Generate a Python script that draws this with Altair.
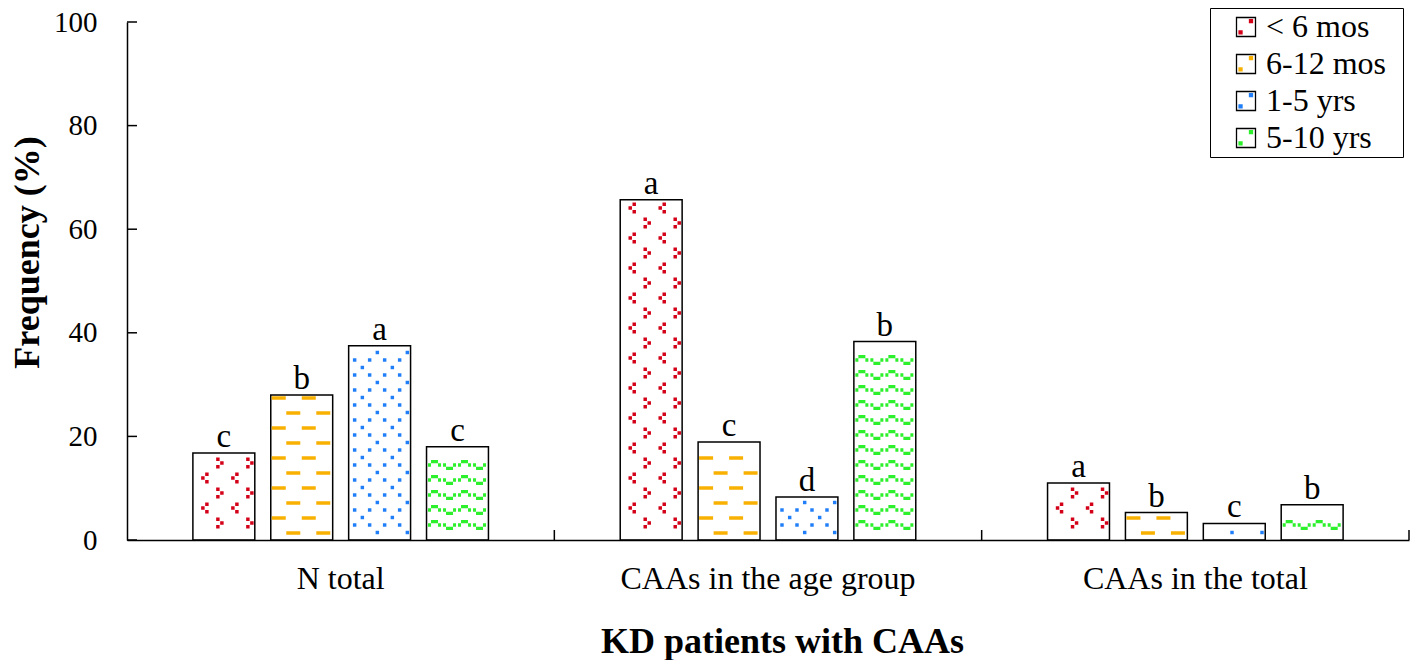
import altair as alt
import pandas as pd

# ---------------- data ----------------
categories = ["N total", "CAAs in the age group", "CAAs in the total"]
age_groups = ["< 6 mos", "6-12 mos", "1-5 yrs", "5-10 yrs"]
freq_lt6m = [16.8, 65.7, 11.0]
freq_6_12m = [28.0, 18.9, 5.3]
freq_1_5y = [37.5, 8.3, 3.2]
freq_5_10y = [18.0, 38.3, 6.8]
letters_lt6m = ["c", "a", "a"]
letters_6_12m = ["b", "c", "b"]
letters_1_5y = ["a", "d", "c"]
letters_5_10y = ["c", "b", "b"]
y_ticks = [0, 20, 40, 60, 80, 100]
pattern_colors = ["#d40018", "#f8b100", "#1f7ef8", "#2bf02b"]

series_values = [freq_lt6m, freq_6_12m, freq_1_5y, freq_5_10y]
series_letters = [letters_lt6m, letters_6_12m, letters_1_5y, letters_5_10y]
age_keys = [str(i) for i in range(len(age_groups))]

# ---------------- layout constants ----------------
SERIF = "Liberation Serif"
W, H = 1282, 518
PAD = {"left": 119, "top": 14, "right": 1, "bottom": 120}
GW = W / 3.0
P_IN, P_OUT = 0.205, 0.846
STEP = GW / (4 - P_IN + 2 * P_OUT)
PX = H / 100.0  # pixels per data unit on the y scale

# pattern element shapes (SVG paths in [-1,1] symbol space)
LT = "M0.05,-1H0.68V-0.37H0.05Z M-0.68,-0.31H-0.05V0.31H-0.68Z M0.05,0.37H0.68V1H0.05Z"
GT = "M-0.05,-1H-0.68V-0.37H-0.05Z M0.68,-0.31H0.05V0.31H0.68Z M-0.05,0.37H-0.68V1H-0.05Z"
DASH = "M-1,-0.25H1V0.25H-1Z"
DOT = "M-1,-1H1V1H-1Z"
WAVE = ("M-1,-0.11H-0.8V0.11H-1Z M-0.8,-0.33H-0.333V-0.11H-0.8Z M-0.333,-0.11H-0.133V0.11H-0.333Z "
        "M0,-0.11H0.2V0.11H0Z M0.2,0.11H0.667V0.33H0.2Z M0.667,-0.11H0.867V0.11H0.667Z")
LEG_SYM = "M0.3,-0.85H0.75V-0.4H0.3Z M-0.8,0.35H-0.35V0.8H-0.8Z"


def pattern_elements(kind, h):
    """Decorative fill pattern of one bar: (rel_x px, y px, shape, size)."""
    out = []
    if kind == 0:
        for j in range(1, 60):
            y = 15 * j + 2
            if y + 5.5 > h - 1:
                break
            if j % 2 == 0:
                out += [(x, y, LT, 121) for x in (12, 42)]
            else:
                out += [(x, y, GT, 121) for x in (27, 57)]
    elif kind == 1:
        for j in range(0, 60):
            y = 15 * j + 7
            if y + 1.5 > h - 1:
                break
            xs = (22.5, 52.5) if j % 2 == 0 else (8, 38)
            out += [(x, y, DASH, 196) for x in xs]
    elif kind == 2:
        for r in range(1, 120):
            y = 7.5 * r
            if y + 1.7 > h - 1:
                break
            if r % 2 == 0:
                xs = (6, 21, 36, 51)
            elif r % 4 == 3:
                xs = (13.7, 43.7)
            else:
                xs = (28.7, 58.7)
            out += [(x, y, DOT, 12) for x in xs]
    else:
        for j in range(1, 60):
            y = 15 * j
            if y + 5 > h - 1:
                break
            out += [(x, y, WAVE, 900) for x in (16.5, 46.5)]
    return out


bar_rows, pat_rows = [], []
for b, (age, key, vals, lets) in enumerate(zip(age_groups, age_keys, series_values, series_letters)):
    left = P_OUT * STEP + b * STEP
    for cat, v, let in zip(categories, vals, lets):
        bar_rows.append({"cat": cat, "age": age, "value": v, "letter": let})
        for rx, ypx, shp, sz in pattern_elements(b, v * PX):
            pat_rows.append({"cat": cat, "agek": key, "ox": left + rx,
                             "py": ypx / PX, "shp": shp, "sz": sz})

bars_df = pd.DataFrame(bar_rows)
pat_df = pd.DataFrame(pat_rows)
ticks_df = pd.DataFrame({"t": y_ticks})
cats_df = pd.DataFrame({"cat": categories})

# ---------------- encodings ----------------
x_axis = alt.Axis(title="KD patients with CAAs", labelAngle=0, ticks=False, labelPadding=48,
                  labelBaseline="alphabetic", labelLimit=600, labelFont=SERIF, labelFontSize=32,
                  labelColor="black", domainColor="black", domainWidth=1.5, grid=False,
                  titleFont=SERIF, titleFontSize=36, titleFontWeight="bold", titleColor="black",
                  titleBaseline="alphabetic", titleX=655, titleY=112)
x_scale = alt.Scale(domain=categories, paddingInner=0, paddingOuter=0)
y_axis = alt.Axis(title="Frequency (%)", values=y_ticks, ticks=False, labelPadding=30,
                  labelFont=SERIF, labelFontSize=29, labelColor="black",
                  domainColor="black", domainWidth=1.5, grid=False,
                  titleFont=SERIF, titleFontSize=36, titleFontWeight="bold", titleColor="black",
                  titleBaseline="alphabetic", titleX=-89, titleY=230)
y_scale = alt.Scale(domain=[0, 100], nice=False)


def X(**kw):
    return alt.X("cat:N", sort=categories, scale=x_scale, axis=x_axis, **kw)


def Y(field):
    return alt.Y(field, scale=y_scale, axis=y_axis)


def xoff_band():
    return alt.XOffset("age:N", sort=age_groups,
                       scale=alt.Scale(type="band", domain=age_groups,
                                       paddingInner=P_IN, paddingOuter=P_OUT))


legend_common = dict(orient="none", legendX=1083, legendY=-14, title="\u00a0", titleOrient="right",
                     titleFontSize=32, titlePadding=14, symbolSize=361, symbolOffset=17,
                     labelOffset=4, labelFont=SERIF, labelFontSize=32, padding=3, rowPadding=5)

bars = alt.Chart(bars_df).mark_bar(stroke="black", strokeWidth=1.5).encode(
    x=X(), xOffset=xoff_band(), y=Y("value:Q"),
    fill=alt.Fill("age:N", sort=age_groups,
                  scale=alt.Scale(domain=age_groups, range=["transparent"] * 4),
                  legend=alt.Legend(symbolType="square", symbolStrokeColor="black",
                                    symbolStrokeWidth=1.3, labelColor="black",
                                    strokeColor="black", **legend_common)),
)

patterns = alt.Chart(pat_df).mark_point(filled=True, opacity=1, strokeWidth=0).encode(
    x=X(),
    xOffset=alt.XOffset("ox:Q", scale=alt.Scale(domain=[0, GW], nice=False, zero=False)),
    y=Y("py:Q"),
    color=alt.Color("agek:N", sort=age_keys,
                    scale=alt.Scale(domain=age_keys, range=pattern_colors),
                    legend=alt.Legend(symbolType=LEG_SYM, symbolStrokeWidth=0,
                                      labelExpr="'\u00a0'", labelOpacity=0, **legend_common)),
    shape=alt.Shape("shp:N", scale=None),
    size=alt.Size("sz:Q", scale=None),
)

letters = alt.Chart(bars_df).mark_text(font=SERIF, fontSize=33, baseline="alphabetic",
                                       dy=-6, color="black").encode(
    x=X(), xOffset=xoff_band(), y=Y("value:Q"), text="letter:N")

yticks = alt.Chart(ticks_df).mark_rule(color="black", strokeWidth=1.5).encode(
    y=Y("t:Q"), x=alt.value(0), x2=alt.value(10))

xticks = alt.Chart(cats_df).mark_rule(color="black", strokeWidth=1.5).encode(
    x=X(bandPosition=1), y=alt.value(H - 10), y2=alt.value(H))

chart = alt.layer(bars, patterns, letters, yticks, xticks).resolve_scale(
    xOffset="independent"
).properties(
    width=W, height=H, autosize=alt.AutoSizeParams(type="none"), padding=PAD
).configure_view(stroke=None)

chart.save("out.html", embed_options={"renderer": "svg", "actions": False})
